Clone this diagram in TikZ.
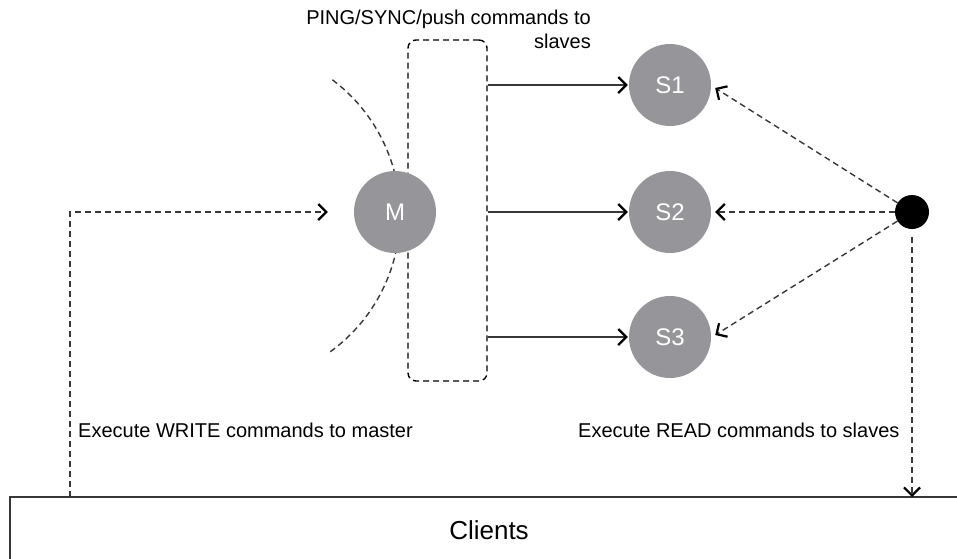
\documentclass[tikz,border=0pt]{standalone}
\usepackage{fontspec}
\setmainfont{Liberation Sans}
\usetikzlibrary{arrows.meta,calc}
\definecolor{nodegray}{RGB}{150,150,154}
\definecolor{linegray}{RGB}{55,55,55}
\tikzset{
  server/.style={circle,fill=nodegray,draw=none,minimum size=82pt,inner sep=0pt,
                 text=white,font=\fontsize{24}{28}\selectfont},
  barb/.style={-{Straight Barb[length=8pt,width=16pt,line width=2.2pt,color=black]}},
  dashline/.style={draw=linegray,line width=1.4pt,dash pattern=on 6pt off 4pt},
  solidline/.style={draw=linegray,line width=1.5pt},
  label/.style={font=\fontsize{20}{24}\selectfont,inner sep=0pt,text=black},
}
\begin{document}
\begin{tikzpicture}[x=1pt,y=-1pt]
\useasboundingbox (0,0) rectangle (957,558);

% arc of the master's reach, behind M
\draw[dashline] plot[domain=-54:54,samples=60] ({231+169*cos(\x)},{215-169*sin(\x)});

% replication buffer box
\node[draw=black,line width=1.4pt,dash pattern=on 6pt off 4pt,rounded corners=8pt,
      minimum width=79pt,minimum height=341pt,inner sep=0pt] (box) at (447.5,210.5) {};

% master and slaves
\node[server] (M) at (395,212) {M};
\node[server] (S1) at (670,85) {S1};
\node[server] (S2) at (670,212) {S2};
\node[server] (S3) at (670,337) {S3};

% load balancer point
\node[circle,fill=black,minimum size=34pt,inner sep=0pt] (dot) at (912,212) {};

% clients bar
\draw[line width=1.6pt,draw=linegray] (962,497) -- (10,497) -- (10,562);
\node[font=\fontsize{26}{30}\selectfont,inner sep=0pt] (clients) at (489,530) {Clients};
\coordinate (wstart) at (70,497);
\coordinate (wcorner) at (70,212);
\coordinate (rend) at (912,497);

% replication commands
\draw[solidline,barb] (box.east |- S1) -- ([xshift=-1pt]S1.west);
\draw[solidline,barb] (box.east |- S2) -- ([xshift=-1pt]S2.west);
\draw[solidline,barb] (box.east |- S3) -- ([xshift=-1pt]S3.west);

% writes to the master
\draw[dashline,barb] (wstart) -- (wcorner) -- ([xshift=-26pt]M.west);

% reads to the slaves
\draw[dashline,barb] (dot) -- ([xshift=4pt,yshift=-3pt]S1.east);
\draw[dashline,barb] (dot) -- ([xshift=4pt]S2.east);
\draw[dashline,barb] (dot) -- ([xshift=4pt,yshift=2pt]S3.east);
\draw[dashline,barb] ([yshift=-8pt]dot.south) -- (rend);

% labels
\node[label,align=right,anchor=north east] (ping) at (591,10)
  {PING/SYNC/push commands to\\slaves};
\node[label,anchor=west] (wlabel) at (78,430) {Execute WRITE commands to master};
\node[label,anchor=west] (rlabel) at (578,430) {Execute READ commands to slaves};
\end{tikzpicture}
\end{document}
